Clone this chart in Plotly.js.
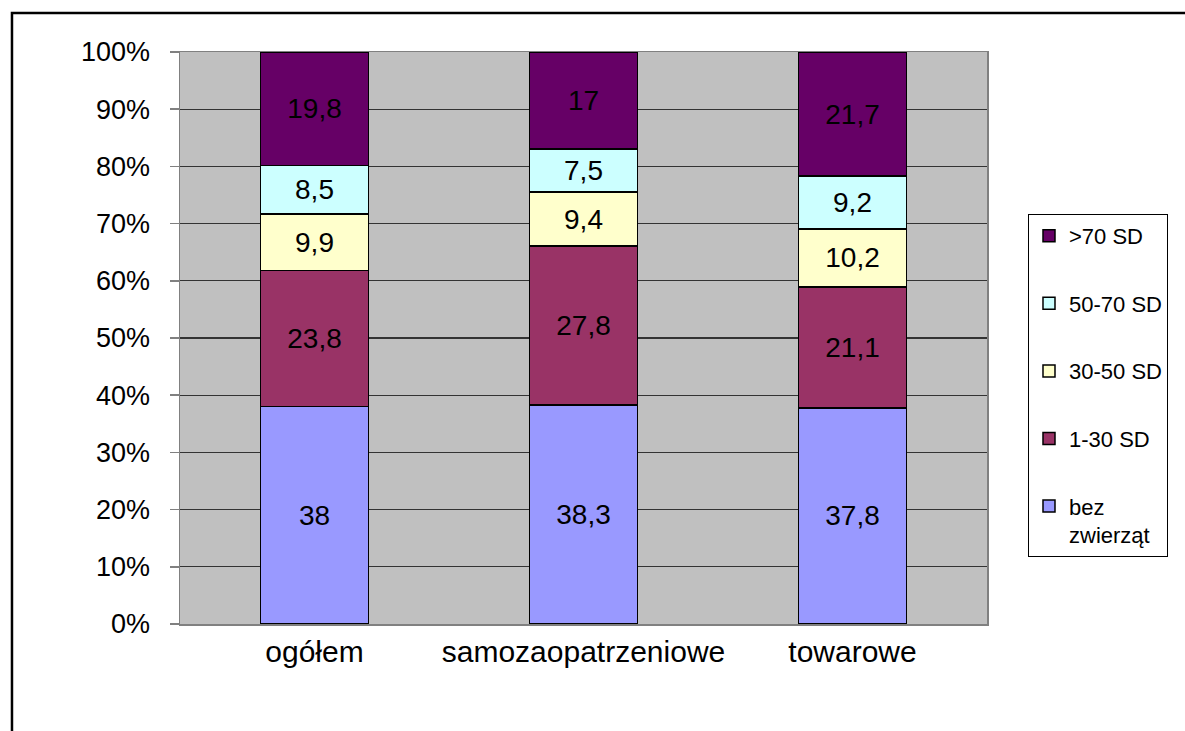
<!DOCTYPE html>
<html>
<head>
<meta charset="utf-8">
<script src="https://cdn.plot.ly/plotly-3.0.1.min.js"></script>
<style>html,body{margin:0;padding:0;background:#fff;}#chart{width:1185px;height:731px;}</style>
</head>
<body>
<div id="chart"></div>
<script>
const categories = ['ogółem', 'samozaopatrzeniowe', 'towarowe'];
const seriesNames = ['bez<br>zwierząt', '1-30 SD', '30-50 SD', '50-70 SD', '>70 SD'];
const bezZwierzat = [38, 38.3, 37.8];
const sd1_30 = [23.8, 27.8, 21.1];
const sd30_50 = [9.9, 9.4, 10.2];
const sd50_70 = [8.5, 7.5, 9.2];
const sd70plus = [19.8, 17, 21.7];
const seriesColors = ['#9999FF', '#993366', '#FFFFCC', '#CCFFFF', '#660066'];
const yTickVals = [0,10,20,30,40,50,60,70,80,90,100];
const yTickText = ['0%','10%','20%','30%','40%','50%','60%','70%','80%','90%','100%'];

const allSeries = [bezZwierzat, sd1_30, sd30_50, sd50_70, sd70plus];
const FONT = 'Liberation Sans, Arial, sans-serif';

const traces = allSeries.map((vals, i) => ({
  type: 'bar',
  name: seriesNames[i],
  x: categories,
  y: vals,
  legendgroup: 'g' + i,
  legendrank: 1000 - i,
  marker: {color: seriesColors[i], line: {color: '#000', width: 1.5}},
  text: vals.map(v => String(v).replace('.', ',')),
  textposition: 'inside',
  insidetextanchor: 'middle',
  textangle: 0,
  constraintext: 'none',
  textfont: {family: FONT, size: 28, color: '#000'},
  hoverinfo: 'skip'
}));

const layout = {
  width: 1185, height: 731,
  margin: {l: 180, r: 198, t: 52, b: 107},
  paper_bgcolor: '#fff',
  plot_bgcolor: '#C0C0C0',
  barmode: 'stack',
  bargap: 0.6,
  font: {family: FONT, color: '#000'},
  showlegend: true,
  legend: {
    x: 1.0508, y: 0.717, xanchor: 'left', yanchor: 'top',
    traceorder: 'grouped',
    tracegroupgap: 36,
    valign: 'top',
    bordercolor: '#000', borderwidth: 1,
    bgcolor: '#fff',
    font: {family: FONT, size: 22, color: '#000'}
  },
  xaxis: {
    type: 'category',
    tickfont: {family: FONT, size: 30, color: '#000'},
    showline: true, linecolor: '#808080', linewidth: 1.5, mirror: true,
    ticks: '', fixedrange: true
  },
  yaxis: {
    range: [0, 100],
    tickmode: 'array',
    tickvals: yTickVals,
    ticktext: yTickText,
    tickfont: {family: FONT, size: 27, color: '#000'},
    ticks: 'outside', ticklen: 9, tickcolor: '#808080', tickwidth: 1.5,
    ticklabelstandoff: 14,
    showgrid: true, gridcolor: '#333', gridwidth: 1.2,
    showline: true, linecolor: '#808080', linewidth: 1.5, mirror: true,
    zeroline: false, fixedrange: true
  },
  shapes: [{
    type: 'rect', xref: 'paper', yref: 'paper',
    x0: -0.2082, x1: 1.4, y0: -0.4, y1: 1.068,
    line: {color: '#000', width: 2.5}, fillcolor: 'rgba(0,0,0,0)', layer: 'below'
  }]
};

Plotly.newPlot('chart', traces, layout, {displayModeBar: false, staticPlot: true});
</script>
</body>
</html>
